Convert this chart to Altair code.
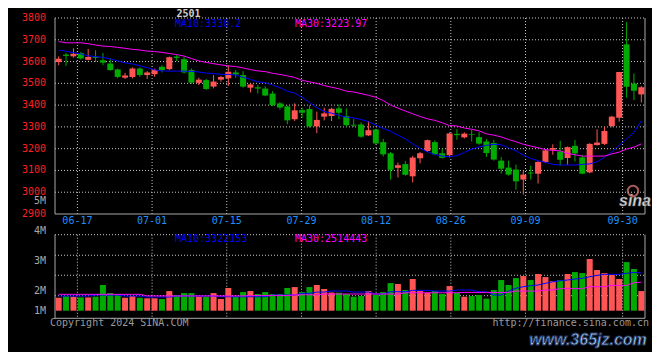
import altair as alt
import pandas as pd

# ---------------- data ----------------
dates = ["06-12","06-13","06-14","06-17","06-18","06-19","06-20","06-21","06-24","06-25","06-26","06-27","06-28",
         "07-01","07-02","07-03","07-04","07-05","07-08","07-09","07-10","07-11","07-12","07-15","07-16","07-17",
         "07-18","07-19","07-22","07-23","07-24","07-25","07-26","07-29","07-30","07-31",
         "08-01","08-02","08-05","08-06","08-07","08-08","08-09","08-12","08-13","08-14","08-15","08-16","08-19",
         "08-20","08-21","08-22","08-23","08-26","08-27","08-28","08-29","08-30",
         "09-02","09-03","09-04","09-05","09-06","09-09","09-10","09-11","09-12","09-13","09-18","09-19","09-20",
         "09-23","09-24","09-25","09-26","09-27","09-30",
         "10-08","10-09","10-10"]

opens = [3598,3632,3624,3639,3608,3621,3606,3591,3564,3526,
         3529,3568,3538,3542,3576,3565,3623,3611,3561,3502,
         3515,3485,3517,3523,3550,3538,3480,3482,3476,3453,
         3408,3394,3335,3377,3382,3302,3347,3350,3385,3350,
         3310,3311,3261,3288,3230,3179,3112,3129,3073,3156,
         3189,3230,3179,3170,3268,3252,3267,3253,3233,3226,
         3145,3113,3104,3058,3090,3085,3139,3195,3187,3157,
         3213,3160,3091,3217,3222,3304,3342,3679,3499,3449]
highs = [3624,3639,3661,3644,3658,3652,3639,3614,3568,3548,
         3573,3573,3556,3568,3583,3623,3632,3621,3568,3526,
         3520,3538,3533,3583,3561,3556,3500,3494,3486,3464,
         3415,3398,3408,3388,3398,3370,3388,3388,3403,3385,
         3336,3321,3326,3291,3245,3185,3136,3144,3167,3185,
         3242,3238,3200,3275,3290,3275,3287,3276,3244,3241,
         3162,3145,3127,3099,3122,3142,3198,3220,3236,3210,
         3240,3172,3225,3289,3301,3351,3552,3781,3545,3488]
lows = [3583,3580,3618,3609,3605,3598,3584,3558,3523,3520,
        3523,3530,3520,3530,3550,3561,3602,3545,3498,3492,
        3470,3477,3508,3488,3526,3480,3458,3453,3441,3395,
        3380,3312,3327,3342,3297,3271,3330,3327,3335,3300,
        3300,3250,3258,3220,3164,3058,3068,3076,3045,3133,
        3185,3170,3155,3160,3241,3247,3233,3218,3162,3145,
        3085,3076,3012,2989,3058,3040,3134,3172,3122,3126,
        3141,3083,3087,3214,3217,3298,3324,3434,3423,3412]
closes = [3613,3626,3636,3614,3621,3617,3595,3561,3529,3536,
          3568,3538,3550,3561,3561,3620,3617,3550,3503,3517,
          3474,3508,3529,3553,3541,3485,3495,3476,3444,3400,
          3389,3330,3376,3365,3302,3332,3362,3383,3365,3308,
          3306,3255,3285,3224,3174,3103,3124,3080,3159,3179,
          3239,3174,3158,3270,3262,3269,3264,3223,3180,3150,
          3108,3081,3050,3081,3086,3139,3192,3203,3149,3207,
          3178,3085,3222,3228,3281,3347,3552,3484,3466,3482]
ma10 = [3653,3647,3641,3635,3626,3623,3619,3612,3603,3594,
        3589,3581,3572,3562,3557,3556,3556,3556,3555,3552,
        3547,3545,3541,3541,3538,3528,3518,3507,3503,3492,
        3480,3464,3455,3436,3412,3388,3371,3363,3353,3345,
        3341,3334,3324,3308,3293,3280,3262,3245,3222,3202,
        3185,3173,3166,3163,3168,3183,3198,3208,3215,3220,
        3218,3204,3190,3170,3155,3145,3137,3128,3125,3125,
        3125,3128,3130,3140,3160,3185,3215,3245,3275,3328]
ma30 = [3692,3686,3686,3686,3682,3676,3671,3669,3665,3661,
        3656,3653,3648,3646,3642,3637,3632,3625,3614,3603,
        3596,3590,3585,3580,3577,3571,3563,3557,3554,3546,
        3541,3534,3527,3514,3507,3500,3490,3482,3475,3464,
        3460,3453,3445,3436,3421,3400,3386,3373,3360,3348,
        3337,3330,3319,3306,3304,3295,3289,3282,3268,3262,
        3254,3242,3232,3220,3212,3204,3196,3192,3190,3178,
        3172,3166,3166,3166,3166,3176,3184,3198,3207,3222]
# volume, millions
volumes = [1.14,1.29,1.23,1.17,1.17,1.23,2.26,1.55,1.47,1.14,
           1.29,1.14,1.09,1.09,1.03,1.73,1.38,1.55,1.55,1.23,
           1.23,1.55,1.03,2.00,1.23,1.64,1.73,1.47,1.64,1.47,
           1.47,2.00,2.08,1.64,2.08,2.26,1.91,1.60,1.58,1.47,
           1.23,1.29,1.73,1.41,1.64,2.43,2.35,1.82,2.79,1.73,
           1.58,1.73,1.47,2.17,1.58,1.23,1.29,1.38,1.06,1.82,
           2.70,2.26,2.87,3.05,2.70,3.23,2.96,2.61,2.70,3.23,
           3.40,3.31,4.55,3.58,3.31,3.14,2.79,4.28,3.67,1.73]
vol_ma10 = [1.29,1.29,1.29,1.29,1.29,1.38,1.38,1.38,1.38,1.29,
            1.29,1.29,1.20,1.20,1.20,1.20,1.29,1.29,1.29,1.29,
            1.29,1.29,1.23,1.23,1.23,1.23,1.23,1.23,1.23,1.38,
            1.38,1.38,1.38,1.53,1.53,1.64,1.64,1.73,1.73,1.73,
            1.64,1.64,1.64,1.47,1.47,1.67,1.67,1.67,1.79,1.79,
            1.79,1.73,1.73,1.73,1.82,1.82,1.82,1.67,1.67,1.38,
            1.38,1.73,1.97,2.11,2.20,2.26,2.41,2.55,2.64,2.70,
            2.79,2.85,2.99,3.11,3.20,3.20,3.20,3.29,3.37,3.32]
vol_ma30 = [1.44,1.44,1.44,1.44,1.44,1.44,1.44,1.44,1.44,1.44,
            1.44,1.44,1.30,1.30,1.30,1.30,1.30,1.30,1.30,1.30,
            1.30,1.30,1.30,1.30,1.30,1.30,1.33,1.33,1.33,1.33,
            1.33,1.33,1.40,1.40,1.40,1.40,1.47,1.47,1.47,1.47,
            1.47,1.47,1.47,1.47,1.47,1.47,1.47,1.58,1.58,1.58,
            1.58,1.58,1.58,1.58,1.58,1.61,1.61,1.61,1.61,1.61,
            1.61,1.61,1.73,1.73,1.73,1.73,1.82,1.82,1.94,1.94,
            1.94,1.94,2.11,2.11,2.11,2.23,2.23,2.23,2.46,2.51]

date_labels = ["06-17", "07-01", "07-15", "07-29", "08-12", "08-26", "09-09", "09-30"]
price_ticks = [2900, 3000, 3100, 3200, 3300, 3400, 3500, 3600, 3700, 3800]
vol_tick_labels = ["5M", "4M", "3M", "2M", "1M"]
vol_tick_values = [9.68, 7.02, 4.40, 1.76, 0.0]
vol_grid = [1.32, 3.12, 4.88]
vol_frame = [-0.67, 6.69]

assert all(len(a) == len(dates) for a in
           [opens, highs, lows, closes, ma10, ma30, volumes, vol_ma10, vol_ma30])

# ---------------- styling ----------------
RED = "#ff5555"
GREEN = "#00aa00"
BLUE = "#0000ff"
MAGENTA = "#ff00ff"
GRID = "#c8c8c8"
FRAME = "#a8a8a8"
MONO = "DejaVu Sans Mono"

N = len(dates)
P_MIN, P_MAX = price_ticks[0], price_ticks[-1]

xs = alt.Scale(domain=[0, N], nice=False, zero=False)
ps = alt.Scale(domain=[P_MIN, P_MAX], range=[196, 0], nice=False, zero=False)
vs = alt.Scale(domain=[0, 7], range=[292.7, 292.7 - 7 * 11.36], nice=False, zero=False)

df = pd.DataFrame({
    "i": list(range(N)), "date": dates, "open": opens, "high": highs, "low": lows,
    "close": closes, "ma10": ma10, "ma30": ma30, "vol": volumes,
    "vma10": vol_ma10, "vma30": vol_ma30,
})
df["x"] = df["i"] + 0.5
df["dir"] = ["up" if c >= o else "down" for o, c in zip(opens, closes)]

grid_df = pd.DataFrame({"label": date_labels,
                        "g": [dates.index(d) * N / (N - 1) for d in date_labels]})

color = alt.Color("dir:N", scale=alt.Scale(domain=["up", "down"], range=[RED, GREEN]), legend=None)
X = alt.X("x:Q", scale=xs, axis=None)
one = pd.DataFrame({"k": [0]})

layers = []

# price panel grid
layers.append(alt.Chart(pd.DataFrame({"p": price_ticks[1:]})).mark_rule(
    color=GRID, strokeDash=[1, 2], strokeWidth=1).encode(
    x=alt.XDatum(0, scale=xs, axis=None), x2=alt.X2Datum(N),
    y=alt.Y("p:Q", scale=ps, axis=None)))
layers.append(alt.Chart(grid_df).mark_rule(color=GRID, strokeDash=[1, 2], strokeWidth=1).encode(
    x=alt.X("g:Q", scale=xs, axis=None),
    y=alt.YDatum(P_MAX, scale=ps, axis=None), y2=alt.Y2Datum(P_MIN)))
# volume panel grid
layers.append(alt.Chart(pd.DataFrame({"v": vol_grid + [vol_frame[1]]})).mark_rule(
    color=GRID, strokeDash=[1, 2], strokeWidth=1).encode(
    x=alt.XDatum(0, scale=xs, axis=None), x2=alt.X2Datum(N),
    y=alt.Y("v:Q", scale=vs, axis=None)))
layers.append(alt.Chart(grid_df).mark_rule(color=GRID, strokeDash=[1, 2], strokeWidth=1).encode(
    x=alt.X("g:Q", scale=xs, axis=None),
    y=alt.YDatum(vol_frame[1], scale=vs, axis=None), y2=alt.Y2Datum(vol_frame[0])))

# frames (left/right/bottom solid)
sides = pd.DataFrame({"fx": [0, N]})
layers.append(alt.Chart(sides).mark_rule(color=FRAME, strokeWidth=1).encode(
    x=alt.X("fx:Q", scale=xs, axis=None),
    y=alt.YDatum(P_MAX, scale=ps, axis=None), y2=alt.Y2Datum(P_MIN)))
layers.append(alt.Chart(one).mark_rule(color=FRAME, strokeWidth=1).encode(
    x=alt.XDatum(0, scale=xs, axis=None), x2=alt.X2Datum(N),
    y=alt.YDatum(P_MIN, scale=ps, axis=None)))
layers.append(alt.Chart(sides).mark_rule(color=FRAME, strokeWidth=1).encode(
    x=alt.X("fx:Q", scale=xs, axis=None),
    y=alt.YDatum(vol_frame[1], scale=vs, axis=None), y2=alt.Y2Datum(vol_frame[0])))
layers.append(alt.Chart(one).mark_rule(color=FRAME, strokeWidth=1).encode(
    x=alt.XDatum(0, scale=xs, axis=None), x2=alt.X2Datum(N),
    y=alt.YDatum(vol_frame[0], scale=vs, axis=None)))

base = alt.Chart(df)
# candles
layers.append(base.mark_rule(strokeWidth=1).encode(
    x=X, y=alt.Y("low:Q", scale=ps, axis=None), y2="high:Q", color=color))
layers.append(base.mark_bar(size=6).encode(
    x=X, y=alt.Y("open:Q", scale=ps, axis=None), y2="close:Q", color=color))
layers.append(base.mark_line(color=BLUE, strokeWidth=1).encode(
    x=X, y=alt.Y("ma10:Q", scale=ps, axis=None)))
layers.append(base.mark_line(color=MAGENTA, strokeWidth=1).encode(
    x=X, y=alt.Y("ma30:Q", scale=ps, axis=None)))
# volume
layers.append(base.mark_bar(size=6).encode(
    x=X, y=alt.Y("vol:Q", scale=vs, axis=None), y2=alt.Y2Datum(0), color=color))
layers.append(base.mark_line(color=BLUE, strokeWidth=1).encode(
    x=X, y=alt.Y("vma10:Q", scale=vs, axis=None)))
layers.append(base.mark_line(color=MAGENTA, strokeWidth=1).encode(
    x=X, y=alt.Y("vma30:Q", scale=vs, axis=None)))

# tick labels
layers.append(alt.Chart(pd.DataFrame({"p": price_ticks})).mark_text(
    align="right", baseline="middle", color="#ff2020", font=MONO, fontSize=10).encode(
    x=alt.value(-4), y=alt.Y("p:Q", scale=ps, axis=None), text=alt.Text("p:Q", format="d")))
layers.append(alt.Chart(pd.DataFrame({"t": vol_tick_labels, "v": vol_tick_values})).mark_text(
    align="right", baseline="middle", color="#a8a8a8", font=MONO, fontSize=10).encode(
    x=alt.value(-4), y=alt.Y("v:Q", scale=vs, axis=None), text="t:N"))
layers.append(alt.Chart(grid_df).mark_text(
    align="center", baseline="middle", color="#1e90ff", font=MONO, fontSize=10).encode(
    x=alt.X("g:Q", scale=xs, axis=None), y=alt.value(203.2), text="label:N"))


def label(txt, x, y, color, size=10, align="left", font=MONO, **kw):
    return alt.Chart(pd.DataFrame({"t": [txt]})).mark_text(
        align=align, baseline="middle", color=color, font=font, fontSize=size, **kw).encode(
        x=alt.value(x), y=alt.value(y), text="t:N")


layers += [
    label("2501", 138.5, -4.5, "#d0d0d0", align="center", fontWeight="bold"),
    label("MA10:3330.2", 125, 5.5, BLUE),
    label("MA30:3223.97", 245, 5.5, MAGENTA),
    label("MA10:3322153", 125, 220.5, BLUE),
    label("MA30:2514443", 245, 220.5, MAGENTA),
    label("Copyright 2024 SINA.COM", 0, 305.3, "#9a9a9a"),
    label("http://finance.sina.com.cn", 599, 305.3, "#9a9a9a", align="right"),
    label("sina", 585, 183, "#d8d8d8", size=16, align="center", font="Liberation Sans",
          fontWeight="bold", fontStyle="italic", stroke="#606060", strokeWidth=0.5),
    label("www.365jz.com", 538, 322, "#b4cdea", size=16, align="center", font="Liberation Sans",
          fontWeight="bold", fontStyle="italic", stroke="#203864", strokeWidth=1),
]
layers.append(alt.Chart(one).mark_point(shape="circle", filled=False, size=110,
                                        color="#f08080", strokeWidth=2).encode(
    x=alt.value(583), y=alt.value(173)))

chart = alt.layer(*layers).resolve_scale(y="independent").properties(
    width=600, height=301, background="black",
    autosize=alt.AutoSizeParams(type="none"),
    padding={"left": 42, "top": 10, "right": 2, "bottom": 33},
).configure_view(stroke=None)

chart.save("out.html", embed_options={"renderer": "svg", "actions": False})
